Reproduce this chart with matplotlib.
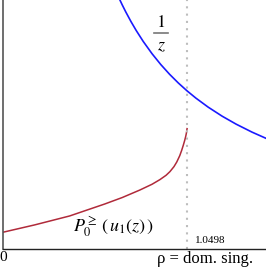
import matplotlib
matplotlib.use('Agg')
import matplotlib.pyplot as plt

plt.rcParams['mathtext.fontset'] = 'stix'
plt.rcParams['font.family'] = ['Liberation Serif', 'DejaVu Serif']

# dominant singularity
rho = 1.0498

# 1/z branch
z_inv = [0.64, 0.66, 0.68, 0.70, 0.73, 0.76, 0.80, 0.85, 0.90, 0.95, 1.00,
         1.05, 1.10, 1.17, 1.25, 1.33, 1.42, 1.50]
v_inv = [1.5625, 1.5152, 1.4706, 1.4286, 1.3699, 1.3158, 1.2500, 1.1765,
         1.1111, 1.0526, 1.0000, 0.9524, 0.9091, 0.8547, 0.8000, 0.7519,
         0.7042, 0.6667]

# P0(u1(z)) branch
z_p = [0.0, 0.18, 0.38, 0.58, 0.68, 0.78, 0.85, 0.895, 0.93, 0.952, 0.975,
       0.991, 1.008, 1.019, 1.028, 1.036, 1.042, 1.046, 1.0498]
v_p = [0.101, 0.145, 0.199, 0.271, 0.310, 0.355, 0.390, 0.418, 0.444, 0.466,
       0.496, 0.524, 0.562, 0.594, 0.624, 0.653, 0.678, 0.698, 0.725]

fig = plt.figure(figsize=(2.66, 2.68), dpi=100)
ax = fig.add_axes([3 / 266, 19 / 268, 263 / 266, 249 / 268])
ax.set_xlim(0, 1.5)
ax.set_ylim(0, 1.5)

ax.plot(z_inv, v_inv, color='#1a1aff', lw=1.2)
ax.plot(z_p, v_p, color='#b02a3a', lw=1.1)
ax.axvline(rho, color='#bdbdbd', lw=1.5, linestyle=(0, (1, 2.5)))

for s in ['top', 'right']:
    ax.spines[s].set_visible(False)
ax.spines['left'].set_color('#555555')
ax.spines['left'].set_linewidth(1.2)
ax.spines['bottom'].set_color('#222222')
ax.spines['bottom'].set_linewidth(1.0)
ax.set_xticks([])
ax.set_yticks([])

# 1/z label as a stacked fraction
ax.text(0.901, 1.367, r'$1$', fontsize=13, ha='center', va='center')
ax.plot([0.861, 0.941], [1.301, 1.301], color='#777777', lw=1.2)
ax.text(0.901, 1.223, r'$z$', fontsize=13, ha='center', va='center')

ax.text(0.63, 0.135, r'$P_0^{\geq}\,(\,u_1(z)\,)$', fontsize=13,
        ha='center', va='center')
ax.text(1.097, 0.025, '1.0498', fontsize=8, ha='left', va='bottom')
ax.text(0.0, -0.01, '0', fontsize=11, ha='center', va='top')
ax.text(1.15, -0.01, u'\u03c1 = dom. sing.', fontsize=12, ha='center', va='top')

fig.savefig('out.png', dpi=100)
